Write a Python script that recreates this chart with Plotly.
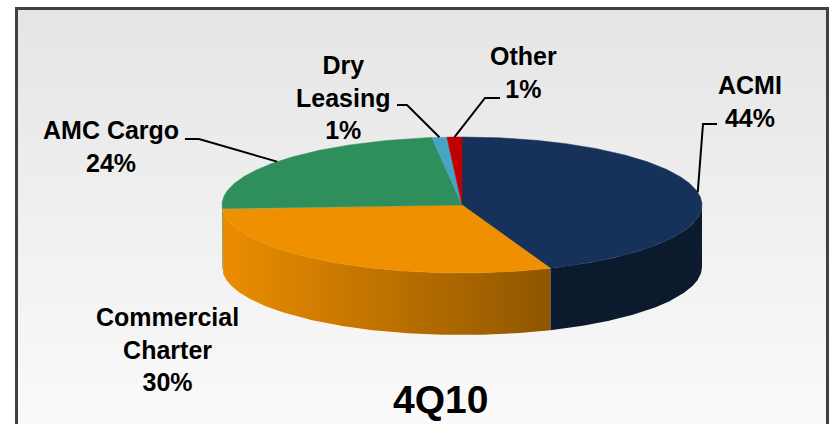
import numpy as np
import plotly.graph_objects as go

# ---- data ----
categories = ["ACMI", "Commercial<br>Charter", "AMC Cargo", "Dry<br>Leasing", "Other"]
values = [44, 30, 24, 1, 1]
top_colors = ["#16325a", "#ee9000", "#2e8f5c", "#46a5c2", "#c00000"]
side_left = ["#0c1a2e", "#ec8d00", "#1f6b43", "#2f7f99", "#8a0000"]
side_right = ["#0c1a2e", "#8f5600", "#1f6b43", "#2f7f99", "#8a0000"]
title_text = "4Q10"

# ---- geometry (pixel space) ----
W, H = 830, 424
cx, cy, rx, ry, depth = 462, 205, 240, 68, 62

# label layout: text centre, elbow point, leader end point (None = no leader)
label_pos = [
    dict(x=750, y=101, elbow=(703, 124), end=(717, 124)),
    dict(x=167, y=349, elbow=None, end=None),
    dict(x=111, y=146, elbow=(199, 139), end=(185, 139)),
    dict(x=343, y=97, elbow=(407, 105), end=(397, 105)),
    dict(x=523, y=72, elbow=(485, 98), end=(500, 98)),
]


def pt(theta, dz=0.0):
    t = np.radians(theta)
    return cx + rx * np.sin(t), cy - ry * np.cos(t) + dz


def arc(a, b, dz=0.0, n=None):
    if n is None:
        n = max(4, int(abs(b - a) * 2))
    th = np.linspace(a, b, n)
    xs, ys = pt(th, dz)
    return list(xs), list(ys)


total = float(sum(values))
angles = np.concatenate([[0], np.cumsum(values) / total * 360.0])

fig = go.Figure()

# background panel with vertical gradient
fig.add_trace(go.Scatter(
    x=[16, 828, 828, 16, 16], y=[9, 9, 430, 430, 9], mode="lines",
    line=dict(width=0), fill="toself",
    fillgradient=dict(type="vertical", colorscale=[[0, "#e5e5e5"], [1, "#fafafa"]], start=9, stop=424),
    hoverinfo="skip", showlegend=False))

# side walls (front half only: 90..270 deg)
for i in range(len(values)):
    a, b = max(angles[i], 90), min(angles[i + 1], 270)
    if a >= b:
        continue
    tx, ty = arc(a, b)
    bx, by = arc(b, a, depth)
    xs = tx + bx + [tx[0]]
    ys = ty + by + [ty[0]]
    x0, x1 = min(xs), max(xs)
    fig.add_trace(go.Scatter(
        x=xs, y=ys, mode="lines", line=dict(width=0), fill="toself",
        fillgradient=dict(type="horizontal",
                          colorscale=[[0, side_left[i]], [1, side_right[i]]],
                          start=x0, stop=x1),
        hoverinfo="skip", showlegend=False))

# top faces
for i in range(len(values)):
    ax, ay = arc(angles[i], angles[i + 1])
    xs = [cx] + ax + [cx]
    ys = [cy] + ay + [cy]
    fig.add_trace(go.Scatter(
        x=xs, y=ys, mode="lines", line=dict(width=0.5, color=top_colors[i]),
        fill="toself", fillcolor=top_colors[i],
        hoverinfo="skip", showlegend=False))

# leader lines and labels
annotations = []
for i, (lab, v) in enumerate(zip(categories, values)):
    lp = label_pos[i]
    if lp["elbow"] is not None:
        mid = (angles[i] + angles[i + 1]) / 2
        sx, sy = pt(mid)
        fig.add_trace(go.Scatter(
            x=[sx, lp["elbow"][0], lp["end"][0]], y=[sy, lp["elbow"][1], lp["end"][1]],
            mode="lines", line=dict(color="black", width=2),
            hoverinfo="skip", showlegend=False))
    annotations.append(dict(
        x=lp["x"], y=lp["y"], xref="x", yref="y", showarrow=False,
        text="<b>" + lab + "<br>" + f"{v}%" + "</b>",
        font=dict(family="Liberation Sans, Arial, sans-serif", size=25, color="black"),
        xanchor="center", yanchor="middle", align="center"))

annotations.append(dict(
    x=440, y=399, xref="x", yref="y", showarrow=False,
    text="<b>" + title_text + "</b>",
    font=dict(family="Liberation Sans, Arial, sans-serif", size=39, color="black"),
    xanchor="center", yanchor="middle"))

fig.update_layout(
    width=W, height=H, margin=dict(l=0, r=0, t=0, b=0),
    paper_bgcolor="white", plot_bgcolor="white",
    xaxis=dict(range=[0, W], visible=False, fixedrange=True),
    yaxis=dict(range=[H, 0], visible=False, fixedrange=True),
    annotations=annotations,
    shapes=[dict(type="rect", xref="x", yref="y", x0=16.5, x1=827.5, y0=8.5, y1=440,
                 line=dict(color="#404040", width=3), fillcolor="rgba(0,0,0,0)")],
    showlegend=False,
)

fig.write_html("out.html")
